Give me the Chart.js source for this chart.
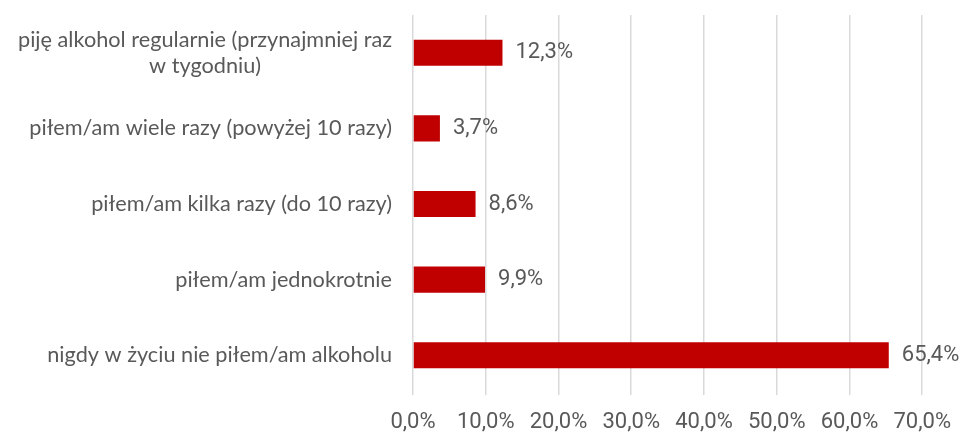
<!DOCTYPE html>
<html>
<head>
<meta charset="utf-8">
<script src="https://cdn.jsdelivr.net/npm/chart.js@4"></script>
<style>
  html, body { margin: 0; padding: 0; background: #fff; }
  #wrap { width: 965px; height: 435px; }
</style>
</head>
<body>
<div id="wrap"><canvas id="wykres" width="965" height="435"></canvas></div>
<script>
// Dane wykresu
const kategorie = [
  ['piję alkohol regularnie (przynajmniej raz', 'w tygodniu)'],
  'piłem/am wiele razy (powyżej 10 razy)',
  'piłem/am kilka razy (do 10 razy)',
  'piłem/am jednokrotnie',
  'nigdy w życiu nie piłem/am alkoholu'
];
const wartosci = [12.3, 3.7, 8.6, 9.9, 65.4];
const osX = [0, 10, 20, 30, 40, 50, 60, 70];

const kolorSlupka = '#C00000';
const kolorTekstu = '#595959';
const fontWaski = '"Liberation Sans Narrow", "Roboto", sans-serif';
const fontEtykiet = 'Lato, "Open Sans", sans-serif';

const fmt = v => v.toFixed(1).replace('.', ',') + '%';

// Etykiety kategorii po lewej (druga linia wyśrodkowana pod pierwszą)
const etykietyKategorii = {
  id: 'etykietyKategorii',
  afterDraw(chart) {
    const ctx = chart.ctx;
    const y = chart.scales.y;
    const prawa = chart.chartArea.left - 21;
    ctx.save();
    ctx.font = '21.7px ' + fontEtykiet;
    ctx.fillStyle = kolorTekstu;
    ctx.textBaseline = 'middle';
    kategorie.forEach((k, i) => {
      const yc = y.getPixelForValue(i);
      if (Array.isArray(k)) {
        const szer = Math.max(...k.map(l => ctx.measureText(l).width));
        const srodek = prawa - szer / 2;
        const lh = 26;
        ctx.textAlign = 'center';
        k.forEach((l, j) => {
          ctx.fillText(l, srodek, yc + (j - (k.length - 1) / 2) * lh);
        });
      } else {
        ctx.textAlign = 'right';
        ctx.fillText(k, prawa, yc);
      }
    });
    ctx.restore();
  }
};

// Wartości obok słupków
const etykietyWartosci = {
  id: 'etykietyWartosci',
  afterDatasetsDraw(chart) {
    const ctx = chart.ctx;
    const meta = chart.getDatasetMeta(0);
    ctx.save();
    ctx.font = '22px ' + fontWaski;
    ctx.fillStyle = kolorTekstu;
    ctx.textAlign = 'left';
    ctx.textBaseline = 'middle';
    meta.data.forEach((bar, i) => {
      ctx.fillText(fmt(wartosci[i]), bar.x + 13, bar.y);
    });
    ctx.restore();
  }
};

new Chart(document.getElementById('wykres'), {
  type: 'bar',
  data: {
    labels: kategorie,
    datasets: [{
      data: wartosci,
      backgroundColor: kolorSlupka,
      borderWidth: 0,
      barPercentage: 0.345,
      categoryPercentage: 1
    }]
  },
  options: {
    indexAxis: 'y',
    responsive: false,
    animation: false,
    layout: { padding: { top: 15, right: 41, left: 0, bottom: 0 } },
    plugins: {
      legend: { display: false },
      tooltip: { enabled: false }
    },
    scales: {
      x: {
        min: 0,
        max: 70,
        afterBuildTicks(scale) {
          scale.ticks = osX.map(v => ({ value: v }));
        },
        ticks: {
          callback: v => fmt(v),
          color: kolorTekstu,
          font: { family: fontWaski, size: 22 },
          padding: 14,
          maxRotation: 0
        },
        grid: { color: '#D9D9D9', lineWidth: 1.5, drawTicks: true, tickLength: 2 },
        border: { display: false },
        afterFit(scale) { scale.height = 42; }
      },
      y: {
        ticks: { display: false },
        grid: { display: false },
        border: { display: false },
        afterFit(scale) { scale.width = 413; }
      }
    }
  },
  plugins: [etykietyKategorii, etykietyWartosci]
});
</script>
</body>
</html>
